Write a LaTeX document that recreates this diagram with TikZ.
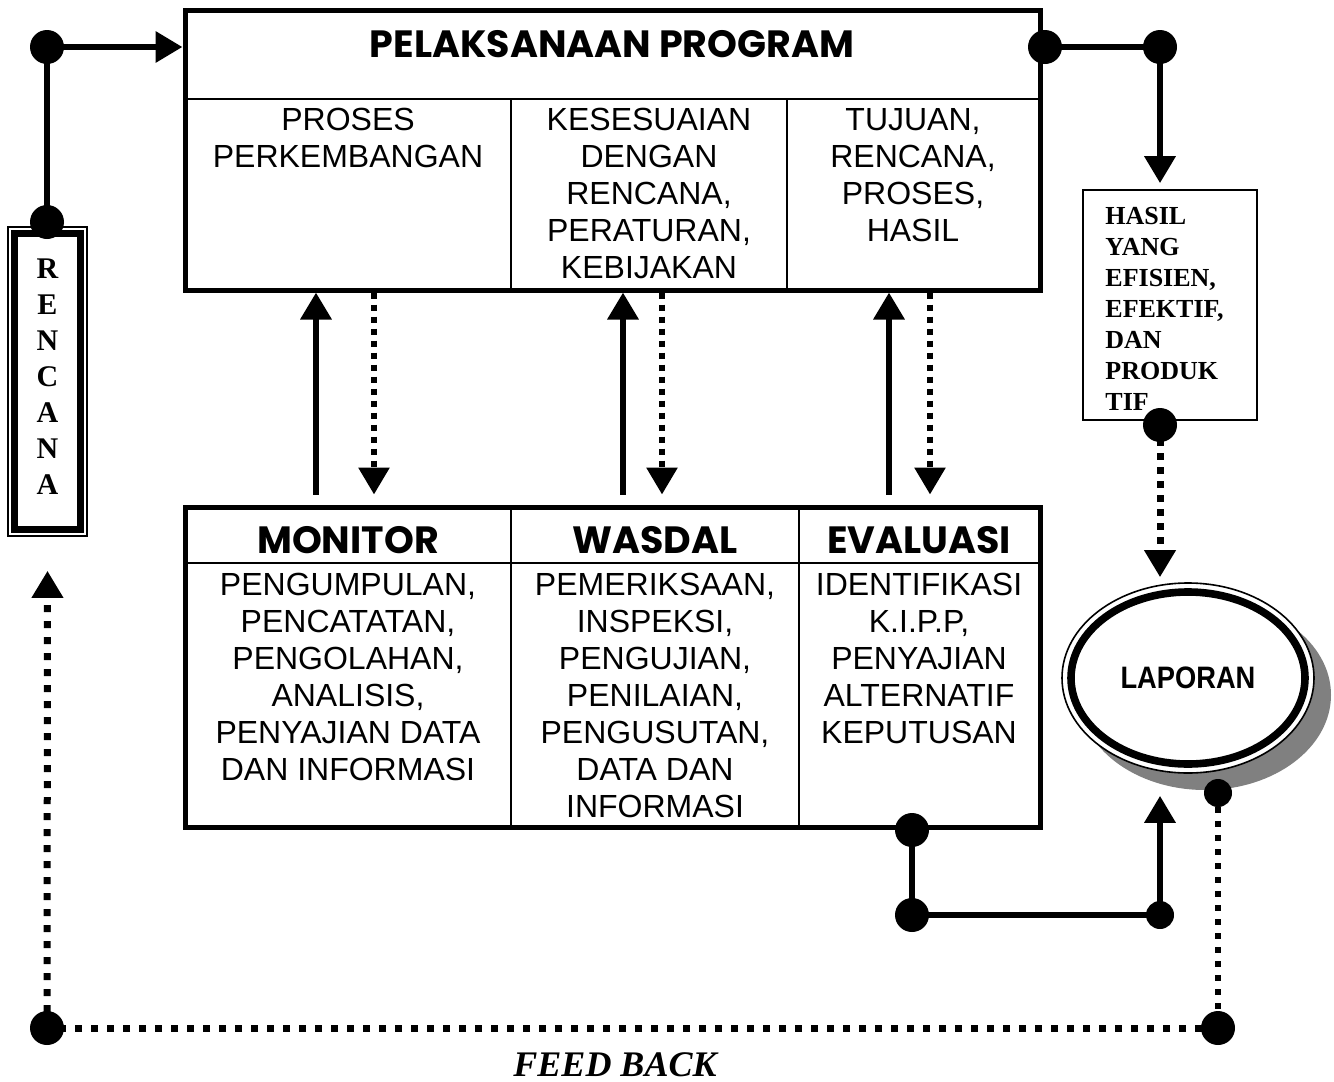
\documentclass[tikz,border=0pt]{standalone}
\usepackage{fontspec}
\setmainfont{Liberation Sans}
\newfontfamily\headfont{Poppins}
\newfontfamily\serfont{Liberation Serif}
\newfontfamily\narrowfont[FakeStretch=0.88]{Liberation Sans}
\usetikzlibrary{positioning,arrows.meta,shapes.geometric,shadows}
\definecolor{shadowgray}{RGB}{128,128,128}

\begin{document}
\begin{tikzpicture}[x=0.5pt,y=-0.5pt]

\tikzstyle{frame}=[rectangle,draw,line width=2.5pt,inner sep=0pt]
\tikzstyle{divider}=[draw,line width=1pt]
\tikzstyle{body}=[align=center,inner sep=0pt,anchor=north,font=\fontsize{16}{18.5}\selectfont]
\tikzstyle{title}=[inner sep=0pt,font=\headfont\bfseries\fontsize{19}{22}\selectfont]
\tikzstyle{dot}=[circle,fill,inner sep=0pt,minimum size=17pt]
\tikzstyle{smalldot}=[circle,fill,inner sep=0pt,minimum size=14pt]
\tikzstyle{line}=[draw,line width=3.2pt]
\tikzstyle{arrowline}=[draw,line width=3.2pt,-{Triangle[length=13.5pt,width=15pt]}]
\tikzstyle{dotline}=[draw,line width=3pt,dash pattern=on 3pt off 3pt]
\tikzstyle{dotarrow}=[dotline,-{Triangle[length=13.5pt,width=15pt]}]

\useasboundingbox (0,0) rectangle (1334,1082);

% upper box
\node (program) [frame,minimum width=427.5pt,minimum height=140pt] at (612.5,150) {};
\draw[divider] (185,99) -- (1040,99);
\draw[divider] (511,99) -- (511,290);
\draw[divider] (787,99) -- (787,290);
\node (programtitle) [title] at (612,44) {PELAKSANAAN PROGRAM};
\node (proses) [body] at (348,108) {PROSES\\PERKEMBANGAN};
\node (kesesuaian) [body] at (649,108) {KESESUAIAN\\DENGAN\\RENCANA,\\PERATURAN,\\KEBIJAKAN};
\node (tujuan) [body] at (913,108) {TUJUAN,\\RENCANA,\\PROSES,\\HASIL};

% lower box
\node (control) [frame,minimum width=427.5pt,minimum height=160pt] at (612.5,667) {};
\draw[divider] (185,563) -- (1040,563);
\draw[divider] (511,507) -- (511,827);
\draw[divider] (799,507) -- (799,827);
\node (monitor) [title] at (348,540) {MONITOR};
\node (wasdal) [title] at (655,540) {WASDAL};
\node (evaluasi) [title] at (919,540) {EVALUASI};
\node (monitortext) [body] at (348,573) {PENGUMPULAN,\\PENCATATAN,\\PENGOLAHAN,\\ANALISIS,\\PENYAJIAN DATA\\DAN INFORMASI};
\node (wasdaltext) [body] at (655,573) {PEMERIKSAAN,\\INSPEKSI,\\PENGUJIAN,\\PENILAIAN,\\PENGUSUTAN,\\DATA DAN\\INFORMASI};
\node (evaluasitext) [body] at (919,573) {IDENTIFIKASI\\K.I.P.P,\\PENYAJIAN\\ALTERNATIF\\KEPUTUSAN};

% rencana
\node (rencana) [rectangle,draw,line width=0.8pt,minimum width=39.5pt,minimum height=154.5pt] at (47.5,381.5) {};
\draw[line width=3.5pt] ([xshift=3.6pt,yshift=-3.6pt]rencana.north west) rectangle ([xshift=-3.6pt,yshift=3.6pt]rencana.south east);
\node (rencanatext) [align=center,inner sep=0pt,font=\serfont\bfseries\fontsize{15}{18}\selectfont] at (47.5,377) {R\\E\\N\\C\\A\\N\\A};

% hasil
\node (hasil) [rectangle,draw,line width=0.8pt,minimum width=87pt,minimum height=115pt] at (1170,305) {};
\node (hasiltext) [align=left,inner sep=0pt,anchor=north west,font=\serfont\bfseries\fontsize{13}{15.5}\selectfont] at (1105,207) {HASIL\\YANG\\EFISIEN,\\EFEKTIF,\\DAN\\PRODUK\\TIF};

% laporan
\node (laporanrim) [ellipse,draw,line width=0.8pt,fill=white,minimum width=126pt,minimum height=95pt,
  drop shadow={shadow xshift=8.5pt,shadow yshift=-8.5pt,fill=shadowgray,opacity=1}] at (1188,678) {};
\node (laporan) [ellipse,draw,line width=3.8pt,minimum width=117pt,minimum height=86pt,
  font=\narrowfont\bfseries\fontsize{15.5}{18}\selectfont] at (laporanrim.center) {LAPORAN};

% feed back
\node (feedback) [inner sep=0pt,font=\serfont\bfseries\itshape\fontsize{18}{20}\selectfont] at (615,1065) {FEED BACK};

% dots
\node (rtop) [dot] at (47,222) {};
\node (rcorner) [dot] at (47,47) {};
\node (pout) [dot] at (1045,47) {};
\node (pcorner) [dot] at (1160,47) {};
\node (hout) [dot] at (1160,425) {};
\node (lout) [smalldot] at (1218,793) {};
\node (fbright) [dot] at (1218,1028) {};
\node (fbleft) [dot] at (47,1028) {};
\node (eout) [dot] at (912,830) {};
\node (ecorner) [dot] at (912,915) {};
\node (lcorner) [smalldot] at (1160,915) {};

% columns of the arrows between the boxes
\coordinate (up1) at (316,0);
\coordinate (down1) at (374,0);
\coordinate (up2) at (623,0);
\coordinate (down2) at (662,0);
\coordinate (up3) at (889,0);
\coordinate (down3) at (930,0);

\foreach \c in {1,2,3}{
  \draw[arrowline] ([yshift=5pt]up\c |- control.north) -- (up\c |- program.south);
  \draw[dotarrow] (down\c |- program.south) -- ([yshift=5pt]down\c |- control.north);
}

\draw[line] (rtop.center) -- (rcorner.center);
\draw[arrowline] (rcorner.center) -- (program.west |- rcorner);
\draw[line] (pout.center) -- (pcorner.center);
\draw[arrowline] (pcorner.center) -- ([yshift=3pt]hasil.north -| pcorner);
\draw[dotarrow,line width=3.5pt,dash pattern=on 3.5pt off 3.5pt] (hout.center) -- ([yshift=2.5pt]laporanrim.north -| hout);
\draw[line] (eout.center) -- (ecorner.center) -- (lcorner.center);
\draw[arrowline] (lcorner.center) -- ([yshift=-11pt]laporanrim.south -| lcorner);
\draw[dotline,dash pattern=on 3pt off 4pt] (lout.center) -- (fbright.center);
\draw[dotline,line width=3.5pt,dash pattern=on 3.5pt off 4.5pt] (fbright.center) -- (fbleft.center);
\draw[dotarrow,line width=3.5pt,dash pattern=on 3.5pt off 4.5pt] (fbleft.center) -- ([yshift=-17pt]rencana.south);

\end{tikzpicture}
\end{document}
